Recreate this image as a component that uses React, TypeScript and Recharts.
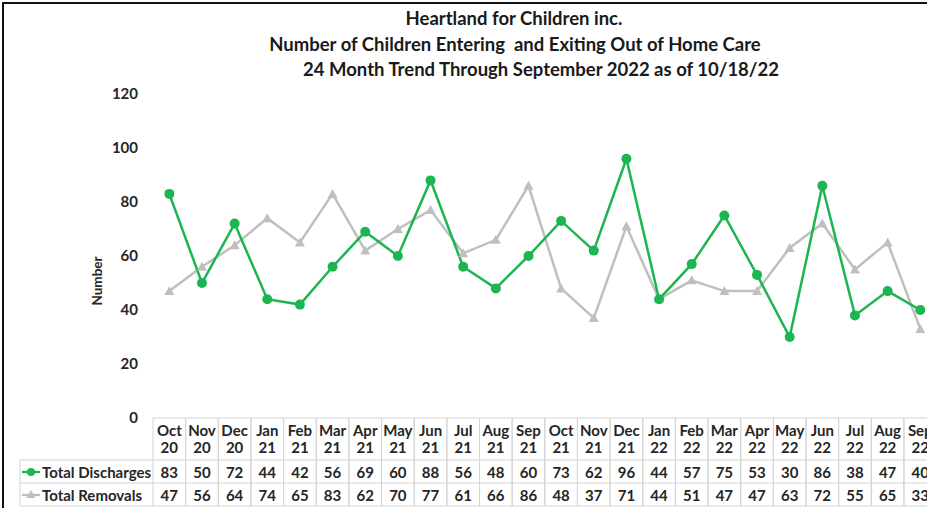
import { ComposedChart, Line, XAxis, YAxis } from "recharts";

const months = [
  "Oct 20", "Nov 20", "Dec 20", "Jan 21", "Feb 21", "Mar 21", "Apr 21", "May 21",
  "Jun 21", "Jul 21", "Aug 21", "Sep 21", "Oct 21", "Nov 21", "Dec 21", "Jan 22",
  "Feb 22", "Mar 22", "Apr 22", "May 22", "Jun 22", "Jul 22", "Aug 22", "Sep 22",
];
const discharges = [83, 50, 72, 44, 42, 56, 69, 60, 88, 56, 48, 60, 73, 62, 96, 44, 57, 75, 53, 30, 86, 38, 47, 40];
const removals = [47, 56, 64, 74, 65, 83, 62, 70, 77, 61, 66, 86, 48, 37, 71, 44, 51, 47, 47, 63, 72, 55, 65, 33];
const yTicks = [0, 20, 40, 60, 80, 100, 120];

const data = months.map((m, i) => ({ month: m, discharges: discharges[i], removals: removals[i] }));

const GREEN = "#1CB552";
const GREY = "#BFBFBF";
const FONT = "Lato, 'Open Sans', sans-serif";
const TEXT = "#262626";
const BORDER = "#D4D4D4";
const CELL_FS = 15;

const CHART_W = 950;
const PLOT_LEFT = 153;
const COL_W = 32.65;
const PLOT_RIGHT = PLOT_LEFT + COL_W * months.length;
const TABLE_TOP = 418;
const ROW1 = 460;
const ROW2 = 483;
const TABLE_BOTTOM = 506;

const Triangle = (props: any) => {
  const { cx, cy, key } = props;
  if (cx == null || cy == null) return null;
  return <polygon key={key} points={`${cx},${cy - 5} ${cx + 5},${cy + 4} ${cx - 5},${cy + 4}`} fill={GREY} />;
};

const cellText = (x: number, y: number, s: string | number) => (
  <text x={x} y={y} textAnchor="middle" dominantBaseline="central" fontFamily={FONT} fontWeight={700} fontSize={CELL_FS} fill={TEXT}>
    {s}
  </text>
);

const TableTick = (props: any) => {
  const { x, payload } = props;
  const i = payload.index;
  const [mon, yr] = String(payload.value).split(" ");
  const x0 = x - COL_W / 2;
  const x1 = x + COL_W / 2;
  return (
    <g>
      {i === 0 && (
        <g>
          <line x1={20} x2={x0} y1={ROW1} y2={ROW1} stroke={BORDER} />
          <line x1={20} x2={x0} y1={ROW2} y2={ROW2} stroke={BORDER} />
          <line x1={20} x2={x0} y1={TABLE_BOTTOM} y2={TABLE_BOTTOM} stroke={BORDER} />
          <line x1={20} x2={20} y1={ROW1} y2={TABLE_BOTTOM} stroke={BORDER} />
          <line x1={22} x2={40} y1={472} y2={472} stroke={GREEN} strokeWidth={2.25} />
          <circle cx={31} cy={472} r={4} fill={GREEN} />
          <line x1={22} x2={40} y1={495} y2={495} stroke={GREY} strokeWidth={2.25} />
          <polygon points="31,490 35.5,498 26.5,498" fill={GREY} />
          <text x={42} y={472} dominantBaseline="central" fontFamily={FONT} fontWeight={700} fontSize={CELL_FS} fill={TEXT}>
            Total Discharges
          </text>
          <text x={42} y={495} dominantBaseline="central" fontFamily={FONT} fontWeight={700} fontSize={CELL_FS} fill={TEXT}>
            Total Removals
          </text>
        </g>
      )}
      <line x1={x0} x2={x1} y1={TABLE_TOP} y2={TABLE_TOP} stroke={BORDER} />
      <line x1={x0} x2={x1} y1={ROW1} y2={ROW1} stroke={BORDER} />
      <line x1={x0} x2={x1} y1={ROW2} y2={ROW2} stroke={BORDER} />
      <line x1={x0} x2={x1} y1={TABLE_BOTTOM} y2={TABLE_BOTTOM} stroke={BORDER} />
      <line x1={x0} x2={x0} y1={TABLE_TOP} y2={TABLE_BOTTOM} stroke={BORDER} />
      <line x1={x1} x2={x1} y1={TABLE_TOP} y2={TABLE_BOTTOM} stroke={BORDER} />
      {cellText(x, 430, mon)}
      {cellText(x, 447, yr)}
      {cellText(x, 472, discharges[i])}
      {cellText(x, 495, removals[i])}
    </g>
  );
};

const titleStyle = (top: number, center: number): any => ({
  position: "absolute",
  top,
  left: center - 400,
  width: 800,
  textAlign: "center",
  fontFamily: FONT,
  fontWeight: 700,
  fontSize: 18.5,
  color: "#1a1a1a",
  lineHeight: "22px",
  whiteSpace: "nowrap",
});

export default function App() {
  return (
    <div
      style={{
        position: "absolute",
        left: 0,
        top: 0,
        width: 927,
        height: 508,
        overflow: "hidden",
        background: "#fff",
      }}
    >
      <div style={{ position: "absolute", left: 2, top: 2, width: 925, height: 506, borderTop: "2px solid #111", borderLeft: "2px solid #111" }} />
      <div style={titleStyle(7, 514)}>Heartland for Children inc.</div>
      <div style={titleStyle(33, 515)}>Number of Children Entering&nbsp; and Exiting Out of Home Care</div>
      <div style={titleStyle(58, 541)}>24 Month Trend Through September 2022 as of 10/18/22</div>
      <div style={{ position: "absolute", left: 0, top: 0 }}>
        <ComposedChart
          width={CHART_W}
          height={508}
          data={data}
          margin={{ top: 94, right: CHART_W - PLOT_RIGHT, bottom: 0, left: 0 }}
        >
          <XAxis
            dataKey="month"
            height={90}
            interval={0}
            padding={{ left: COL_W / 2, right: COL_W / 2 }}
            axisLine={false}
            tickLine={false}
            tickSize={0}
            tickMargin={0}
            tick={<TableTick />}
          />
          <YAxis
            width={PLOT_LEFT}
            domain={[0, 120]}
            ticks={yTicks}
            axisLine={false}
            tickLine={false}
            tickSize={0}
            tickMargin={15}
            tick={{ fontFamily: FONT, fontWeight: 700, fontSize: 15, fill: TEXT }}
            label={{
              content: () => (
                <text
                  x={97}
                  y={281}
                  transform="rotate(-90 97 281)"
                  textAnchor="middle"
                  dominantBaseline="central"
                  fontFamily={FONT}
                  fontWeight={700}
                  fontSize={13.5}
                  fill={TEXT}
                >
                  Number
                </text>
              ),
            }}
          />
          <Line
            dataKey="removals"
            stroke={GREY}
            strokeWidth={2.5}
            dot={Triangle}
            activeDot={false}
            isAnimationActive={false}
          />
          <Line
            dataKey="discharges"
            stroke={GREEN}
            strokeWidth={2.5}
            dot={{ r: 5, fill: GREEN, stroke: GREEN, strokeWidth: 0 }}
            activeDot={false}
            isAnimationActive={false}
          />
        </ComposedChart>
      </div>
    </div>
  );
}
